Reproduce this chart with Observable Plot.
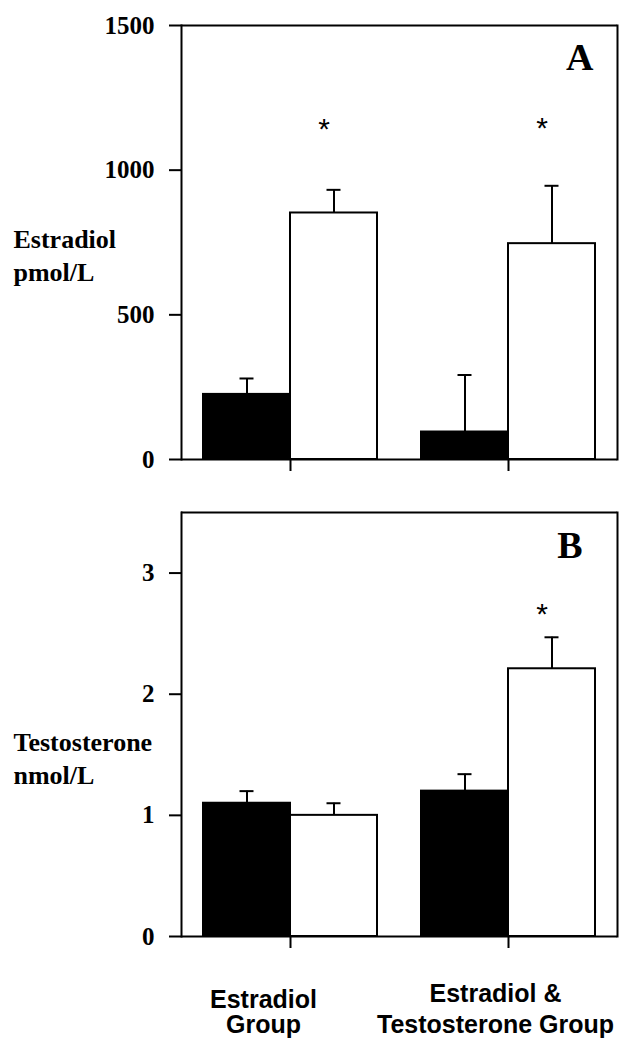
<!DOCTYPE html>
<html><head><meta charset="utf-8">
<script src="https://cdn.jsdelivr.net/npm/d3@7"></script>
<script src="https://cdn.jsdelivr.net/npm/@observablehq/plot@0.6"></script>
<style>body{margin:0;background:#fff} #chart svg{display:block;background:#fff}</style>
</head><body><div id="chart"></div>
<script>
// ---- data ----
const groups = ["Estradiol Group", "Estradiol & Testosterone Group"];
const groupLabels = ["Estradiol\nGroup", "Estradiol &\nTestosterone Group"];
const periods = ["Baseline", "Treatment"];
const estradiolMean = [225, 852, 95, 746];
const estradiolSem = [55, 80, 197, 200];
const estradiolStars = [null, 1140, null, 1145];
const estradiolTicks = [0, 500, 1000, 1500];
const testosteroneMean = [1.10, 1.00, 1.20, 2.21];
const testosteroneSem = [0.10, 0.10, 0.14, 0.26];
const testosteroneStars = [null, null, null, 2.66];
const testosteroneTicks = [0, 1, 2, 3];

const SERIF = "'Liberation Serif', 'Times New Roman', serif";
const SANS = "'Liberation Sans', Arial, sans-serif";

function panel({mean, sem, stars, ticks, yMax, letter, yLabel, height, marginTop, marginBottom, labelDy, letterDx, letterDy, bottom}) {
  const rows = mean.map((m, i) => ({group: groups[Math.floor(i / 2)], period: periods[i % 2], mean: m, sem: sem[i], star: stars[i]}));
  const marks = [
    Plot.barY(rows, {fx: "group", x: "period", y: "mean", fill: "period", stroke: "black", strokeWidth: 2}),
    Plot.ruleX(rows, {fx: "group", x: "period", y1: "mean", y2: d => d.mean + d.sem, stroke: "black", strokeWidth: 2}),
    Plot.tickY(rows, {fx: "group", x: "period", y: d => d.mean + d.sem, stroke: "black", strokeWidth: 2, insetLeft: 36.5, insetRight: 36.5}),
    Plot.text(rows.filter(d => d.star != null), {fx: "group", x: "period", y: "star", text: () => "*", fontSize: 30, fontFamily: SANS, dx: -10, lineAnchor: "middle"}),
    Plot.ruleY([0, yMax], {stroke: "black", strokeWidth: 2}),
    Plot.frame({anchor: "left", facetAnchor: "left", stroke: "black", strokeWidth: 2}),
    Plot.frame({anchor: "right", facetAnchor: "right", stroke: "black", strokeWidth: 2}),
    Plot.axisY({ticks, tickSize: 12, tickPadding: 15, tickFormat: d => String(d), strokeWidth: 2, label: null,
      fontSize: 25, fontWeight: "bold", fontFamily: SERIF}),
    Plot.axisFx({anchor: "bottom", tickSize: 12, tickFormat: () => "", label: null, strokeWidth: 2}),
    Plot.text([{group: groups[0], label: yLabel}], {fx: "group", text: "label", frameAnchor: "left", textAnchor: "start",
      dx: -168, dy: labelDy, lineAnchor: "middle", lineHeight: 1.27, fontSize: 26, fontWeight: "bold", fontFamily: SERIF}),
    Plot.text([{group: groups[1], label: letter}], {fx: "group", text: "label", frameAnchor: "top-right", textAnchor: "end",
      lineAnchor: "top", dx: letterDx, dy: letterDy, fontSize: 38, fontWeight: "bold", fontFamily: SERIF})
  ];
  if (bottom) {
    marks.push(
      Plot.text([{group: groups[0], label: groupLabels[0]}], {fx: "group", text: "label", frameAnchor: "bottom", lineAnchor: "top",
        dx: -27, dy: 53, lineHeight: 1.02, fontSize: 25, fontWeight: "bold", fontFamily: SANS}),
      Plot.text([{group: groups[1], label: groupLabels[1]}], {fx: "group", text: "label", frameAnchor: "bottom", lineAnchor: "top",
        dx: -13, dy: 43, lineHeight: 1.24, fontSize: 25, fontWeight: "bold", fontFamily: SANS})
    );
  }
  return Plot.plot({
    width: 619, height, marginLeft: 180, marginRight: 2, marginTop, marginBottom,
    fx: {domain: groups, padding: 0},
    x: {domain: periods, paddingInner: 0, paddingOuter: 0.24, axis: null},
    y: {domain: [0, yMax]},
    color: {domain: periods, range: ["black", "white"]},
    marks
  });
}

const chart = document.getElementById("chart");
chart.append(panel({mean: estradiolMean, sem: estradiolSem, stars: estradiolStars, ticks: estradiolTicks, yMax: 1500,
  letter: "A", yLabel: "Estradiol\npmol/L", height: 490, marginTop: 25, marginBottom: 31, labelDy: 11.5, letterDx: -24, letterDy: 18}));
chart.append(panel({mean: testosteroneMean, sem: testosteroneSem, stars: testosteroneStars, ticks: testosteroneTicks, yMax: 3.5,
  letter: "B", yLabel: "Testosterone\nnmol/L", height: 550, marginTop: 22, marginBottom: 104, labelDy: 32, letterDx: -35, letterDy: 19, bottom: true}));
</script>
</body></html>
